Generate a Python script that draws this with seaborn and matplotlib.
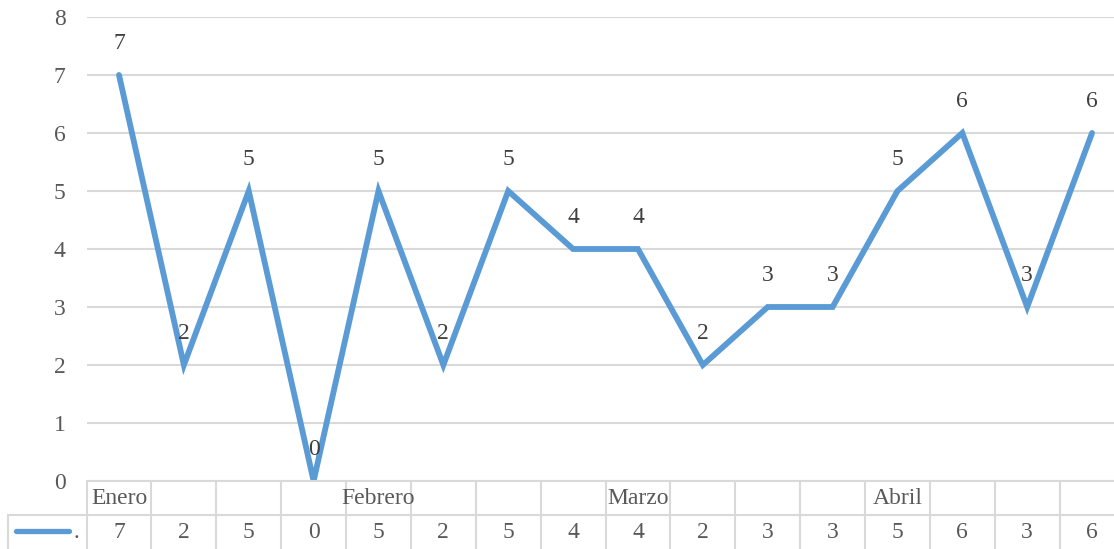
import matplotlib
matplotlib.use("Agg")
import matplotlib.pyplot as plt
import seaborn as sns
import pandas as pd

# Series values, one per period
values = [7, 2, 5, 0, 5, 2, 5, 4, 4, 2, 3, 3, 5, 6, 3, 6]
# Month labels in the category row (placed on the first period of each month)
months = ["Enero", "", "", "", "Febrero", "", "", "", "Marzo", "", "", "", "Abril", "", "", ""]
series_name = "."
y_ticks = [0, 1, 2, 3, 4, 5, 6, 7, 8]

LINE = "#5b9bd5"
GRID = "#d9d9d9"
TICK = "#595959"
LABEL = "#404040"
FONT = "Liberation Serif"
FS = 17

sns.set_theme(style="white")
plt.rcParams["font.family"] = [FONT, "DejaVu Serif"]

W, H = 1114, 549
fig = plt.figure(figsize=(W / 100, H / 100), dpi=100)

n = len(values)
col_w = 64.87
left_px = 119 - col_w / 2
right_px = left_px + n * col_w
top_px, base_px = 17, 481

ax = fig.add_axes([left_px / W, (H - base_px) / H, (right_px - left_px) / W, (base_px - top_px) / H])
df = pd.DataFrame({"idx": range(n), "value": values})
sns.lineplot(data=df, x="idx", y="value", ax=ax, color=LINE, linewidth=4.2,
             solid_joinstyle="miter", solid_capstyle="round", legend=False)
ax.set_xlim(-0.5, n - 0.5)
ax.set_ylim(min(y_ticks), max(y_ticks))
ax.set_yticks(y_ticks)
ax.set_xticks([])
ax.set_xlabel("")
ax.set_ylabel("")
ax.yaxis.grid(True, color=GRID, linewidth=1.5)
ax.set_axisbelow(True)
for s in ax.spines.values():
    s.set_visible(False)
ax.tick_params(axis="y", length=0, pad=15, labelsize=FS, labelcolor=TICK)
for lab in ax.get_yticklabels():
    lab.set_fontfamily(FONT)

# Value labels above each point
for i, v in enumerate(values):
    ax.annotate(str(v), (i, v), xytext=(0, 23), textcoords="offset points",
                ha="center", va="center", fontsize=FS, color=LABEL,
                fontfamily=FONT, annotation_clip=False)

# Data table under the plot: category row and values row with legend key
legend_left_px = 8
tab = fig.add_axes([legend_left_px / W, 0, (right_px - legend_left_px) / W, (H - base_px) / H])
x_left = -0.5 - (left_px - legend_left_px) / col_w
tab.set_xlim(x_left, n - 0.5)
tab.set_ylim(H - base_px, 0)
tab.axis("off")

row1 = 34
row_bottom = H - base_px
tab.plot([-0.5, n - 0.5], [0, 0], color=GRID, lw=1.5, clip_on=False)
tab.plot([x_left, n - 0.5], [row1, row1], color=GRID, lw=1.5, clip_on=False)
for k in range(n + 1):
    tab.plot([k - 0.5, k - 0.5], [0, row_bottom], color=GRID, lw=1.5, clip_on=False)
tab.plot([x_left, x_left], [row1, row_bottom], color=GRID, lw=1.5, clip_on=False)

for i, m in enumerate(months):
    if m:
        tab.text(i, row1 / 2, m, ha="center", va="center", fontsize=FS,
                 color=TICK, fontfamily=FONT)
for i, v in enumerate(values):
    tab.text(i, (row1 + row_bottom) / 2 + 0.5, str(v), ha="center", va="center",
             fontsize=FS, color=TICK, fontfamily=FONT)

# Legend key inside the first cell of the values row
key_y = (row1 + row_bottom) / 2 - 1
kx0 = x_left + (16 - legend_left_px) / col_w
kx1 = x_left + (69 - legend_left_px) / col_w
tab.plot([kx0, kx1], [key_y, key_y], color=LINE, lw=3.8, solid_capstyle="round", clip_on=False)
tab.text(x_left + (76 - legend_left_px) / col_w, key_y + 1, series_name, ha="center",
         va="center", fontsize=FS, color=TICK, fontfamily=FONT)

fig.savefig("out.png", dpi=100)
